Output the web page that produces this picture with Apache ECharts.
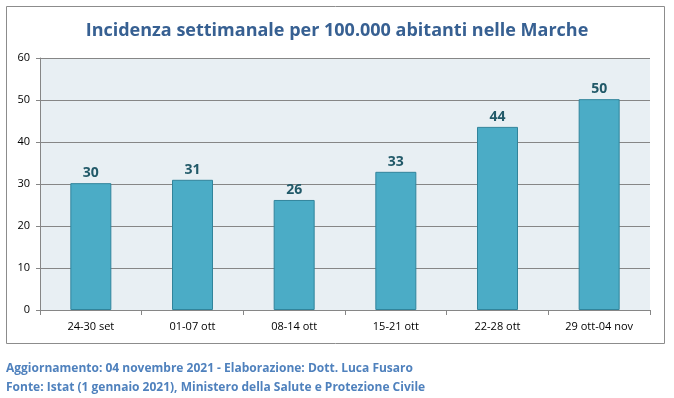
<!DOCTYPE html>
<html>
<head>
<meta charset="utf-8">
<script src="https://cdn.jsdelivr.net/npm/echarts@6/dist/echarts.min.js"></script>
<style>
  html, body { margin: 0; padding: 0; background: #fff; }
  #grafico { width: 674px; height: 398px; }
</style>
</head>
<body>
<div id="grafico"></div>
<script>
var settimane = ['24-30 set', '01-07 ott', '08-14 ott', '15-21 ott', '22-28 ott', '29 ott-04 nov'];
var incidenza = [30.2, 31.0, 26.2, 32.9, 43.6, 50.2];
var tickY = [0, 10, 20, 30, 40, 50, 60];

var myChart = echarts.init(document.getElementById('grafico'));
var option = {
    backgroundColor: '#fff',
    graphic: [
        {
            type: 'rect',
            shape: { x: 6.5, y: 6.5, width: 658, height: 337 },
            style: { fill: 'none', stroke: '#8c8c8c', lineWidth: 1 },
            silent: true
        },
        {
            type: 'text',
            left: 6,
            top: 359,
            style: {
                text: 'Aggiornamento: 04 novembre 2021 - Elaborazione: Dott. Luca Fusaro\nFonte: Istat (1 gennaio 2021), Ministero della Salute e Protezione Civile',
                fill: '#4f81bd',
                font: 'bold 12px "Open Sans", sans-serif',
                lineHeight: 19
            }
        }
    ],
    title: {
        text: 'Incidenza settimanale per 100.000 abitanti nelle Marche',
        left: 'center',
        top: 17,
        textStyle: {
            color: '#376092',
            fontSize: 18,
            fontWeight: 'bold',
            fontFamily: '"Open Sans", sans-serif'
        }
    },
    grid: {
        left: 40,
        right: 24,
        top: 58,
        bottom: 88,
        show: true,
        backgroundColor: '#e8eff3',
        borderWidth: 0
    },
    xAxis: {
        type: 'category',
        data: settimane,
        axisLine: { lineStyle: { color: '#868686' } },
        axisTick: { show: true, alignWithLabel: false, length: 5, lineStyle: { color: '#868686' } },
        axisLabel: { color: '#000', fontSize: 11, margin: 11, fontFamily: '"Open Sans", sans-serif' }
    },
    yAxis: {
        type: 'value',
        min: tickY[0],
        max: tickY[tickY.length - 1],
        interval: 10,
        axisLine: { show: true, lineStyle: { color: '#868686' } },
        axisTick: { show: true, length: 4, lineStyle: { color: '#868686' } },
        axisLabel: { color: '#000', fontSize: 11, margin: 10, fontFamily: '"Open Sans", sans-serif' },
        splitLine: { lineStyle: { color: '#868686', width: 1 } }
    },
    series: [{
        type: 'bar',
        data: incidenza,
        barWidth: 41,
        itemStyle: { color: '#4bacc6', borderColor: '#31849b', borderWidth: 1 },
        label: {
            show: true,
            position: 'top',
            distance: 3,
            color: '#215968',
            fontSize: 14,
            fontWeight: 'bold',
            fontFamily: '"Open Sans", sans-serif',
            formatter: function (p) { return Math.round(p.value); }
        }
    }]
};
myChart.setOption(option);
window.addEventListener("resize", function () { myChart.resize(); });
</script>
</body>
</html>
